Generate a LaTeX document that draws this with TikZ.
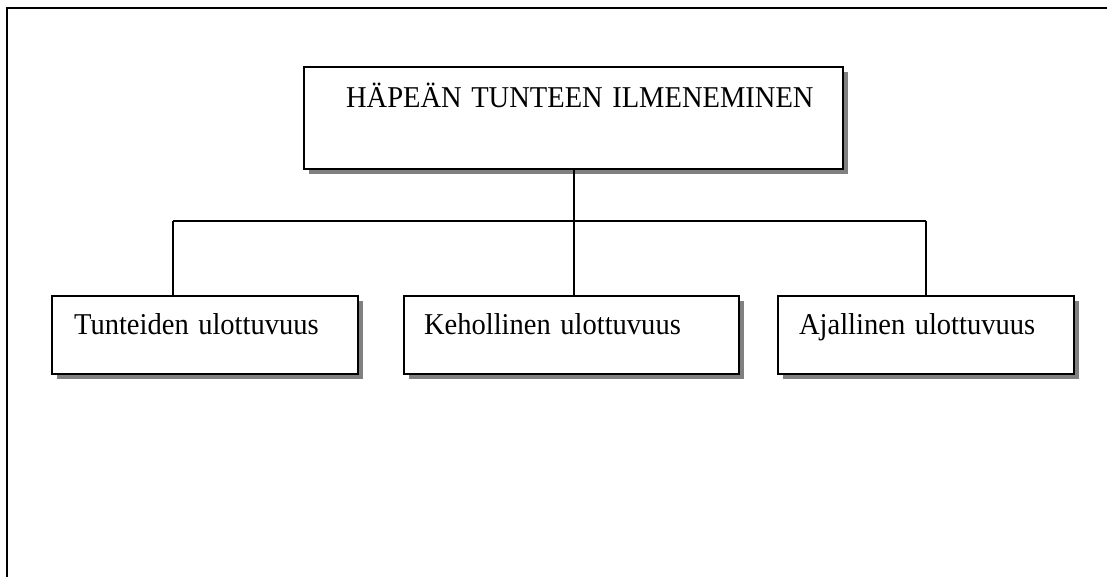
\documentclass[tikz,border=0pt]{standalone}
\usepackage{fontspec}
\setmainfont{Liberation Serif}
\usepackage{xcolor}
\usepackage{tikz}
\usetikzlibrary{shadows}
\definecolor{shadowgray}{RGB}{128,128,128}
\newcommand{\boxfont}{\fontsize{21.4pt}{25pt}\selectfont}
\tikzstyle{shadowbox} = [rectangle, anchor=north west, draw=black, line width=1.6pt, fill=white, drop shadow={shadow xshift=3.75pt, shadow yshift=-3.75pt, fill=shadowgray, opacity=1}, inner ysep=0pt, align=left, font=\boxfont]
\tikzstyle{headbox} = [shadowbox, inner xsep=31.5pt, text width=341.25pt, text height=30pt, text depth=46.5pt]
\tikzstyle{subbox} = [shadowbox, text height=28.5pt, text depth=30pt]
\tikzstyle{line} = [line width=1.6pt]

\begin{document}
\begin{tikzpicture}[x=0.75pt,y=-0.75pt]
		\useasboundingbox (0,0) rectangle (1107,577);
		\draw [line width=2pt] (7,578) -- (7,8) -- (1108,8);
		\node (haepea) [headbox] at (303,66) {\mbox{\scalebox{1}[1.06]{HÄPEÄN TUNTEEN ILMENEMINEN}}};
		\node (tunteet) [subbox,inner xsep=16.5pt,text width=196.5pt] at (51,295) {\mbox{\scalebox{1}[1.06]{Tunteiden ulottuvuus}}};
		\node (keho) [subbox,inner xsep=15pt,text width=221.25pt] at (403,295) {\mbox{\scalebox{1}[1.06]{Kehollinen ulottuvuus}}};
		\node (aika) [subbox,inner xsep=15.75pt,text width=190.5pt] at (777,295) {\mbox{\scalebox{1}[1.06]{Ajallinen ulottuvuus}}};
		\coordinate (barL) at (173,221);
		\coordinate (barR) at (aika.north |- barL);
		\draw [line] (haepea.south) -- (haepea.south |- barL);
		\draw [line] (barL) -- (barR);
		\draw [line] (barL) -- (barL |- tunteet.north);
		\draw [line] (haepea.south |- barL) -- (haepea.south |- keho.north);
		\draw [line] (barR) -- (aika.north);
	\end{tikzpicture}
\end{document}
